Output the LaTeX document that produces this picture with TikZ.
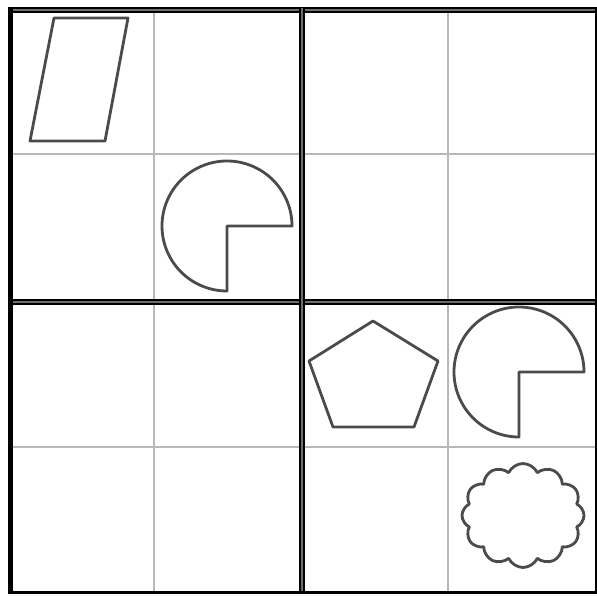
\documentclass[tikz,border=0pt]{standalone}
\usetikzlibrary{shapes.symbols}
\definecolor{gridgray}{RGB}{184,184,184}
\definecolor{shapegray}{RGB}{75,75,75}
\definecolor{gapgray}{RGB}{110,110,110}
\tikzset{
  thinline/.style={draw=gridgray, line width=2pt},
  boldline/.style={draw=black, double=gapgray, double distance=1.8pt, line width=2.2pt},
  solidline/.style={draw=black, line width=3pt},
  figure/.style={draw=shapegray, line width=2.8pt, line join=round, fill=white}
}
\begin{document}
\begin{tikzpicture}[x=1pt,y=-1pt]
\useasboundingbox[fill=white] (0,0) rectangle (597,596);
% thin grid lines
\draw[thinline] (154,10) -- (154,592);
\draw[thinline] (448,10) -- (448,592);
\draw[thinline] (10,154) -- (596,154);
\draw[thinline] (10,447) -- (596,447);
% thick block lines
\draw[boldline] (8,10) -- (597,10);
\draw[boldline] (8,302) -- (597,302);
\draw[boldline] (302,8) -- (302,593);
\draw[draw=black, line width=5pt] (10.5,8) -- (10.5,593.5);
\draw[solidline] (596,8) -- (596,593.5);
\draw[solidline] (8,592) -- (597,592);
% parallelogram
\draw[figure] (54,18) -- (128,18) -- (105,141) -- (30,141) -- cycle;
% pie shapes
\coordinate (pa) at (227,226);
\draw[figure] (pa) -- ++(65,0) arc[start angle=0, end angle=-270, radius=65] -- cycle;
\coordinate (pb) at (519,372);
\draw[figure] (pb) -- ++(65,0) arc[start angle=0, end angle=-270, radius=65] -- cycle;
% pentagon
\draw[figure] (373,321) -- (438,361) -- (414,427) -- (333,427) -- (309,361) -- cycle;
% cloud
\node[cloud, figure, cloud puffs=12, cloud puff arc=130, aspect=1.2,
      minimum width=122pt, minimum height=104pt, inner sep=0pt] (cl) at (523,515.5) {};
\end{tikzpicture}
\end{document}
